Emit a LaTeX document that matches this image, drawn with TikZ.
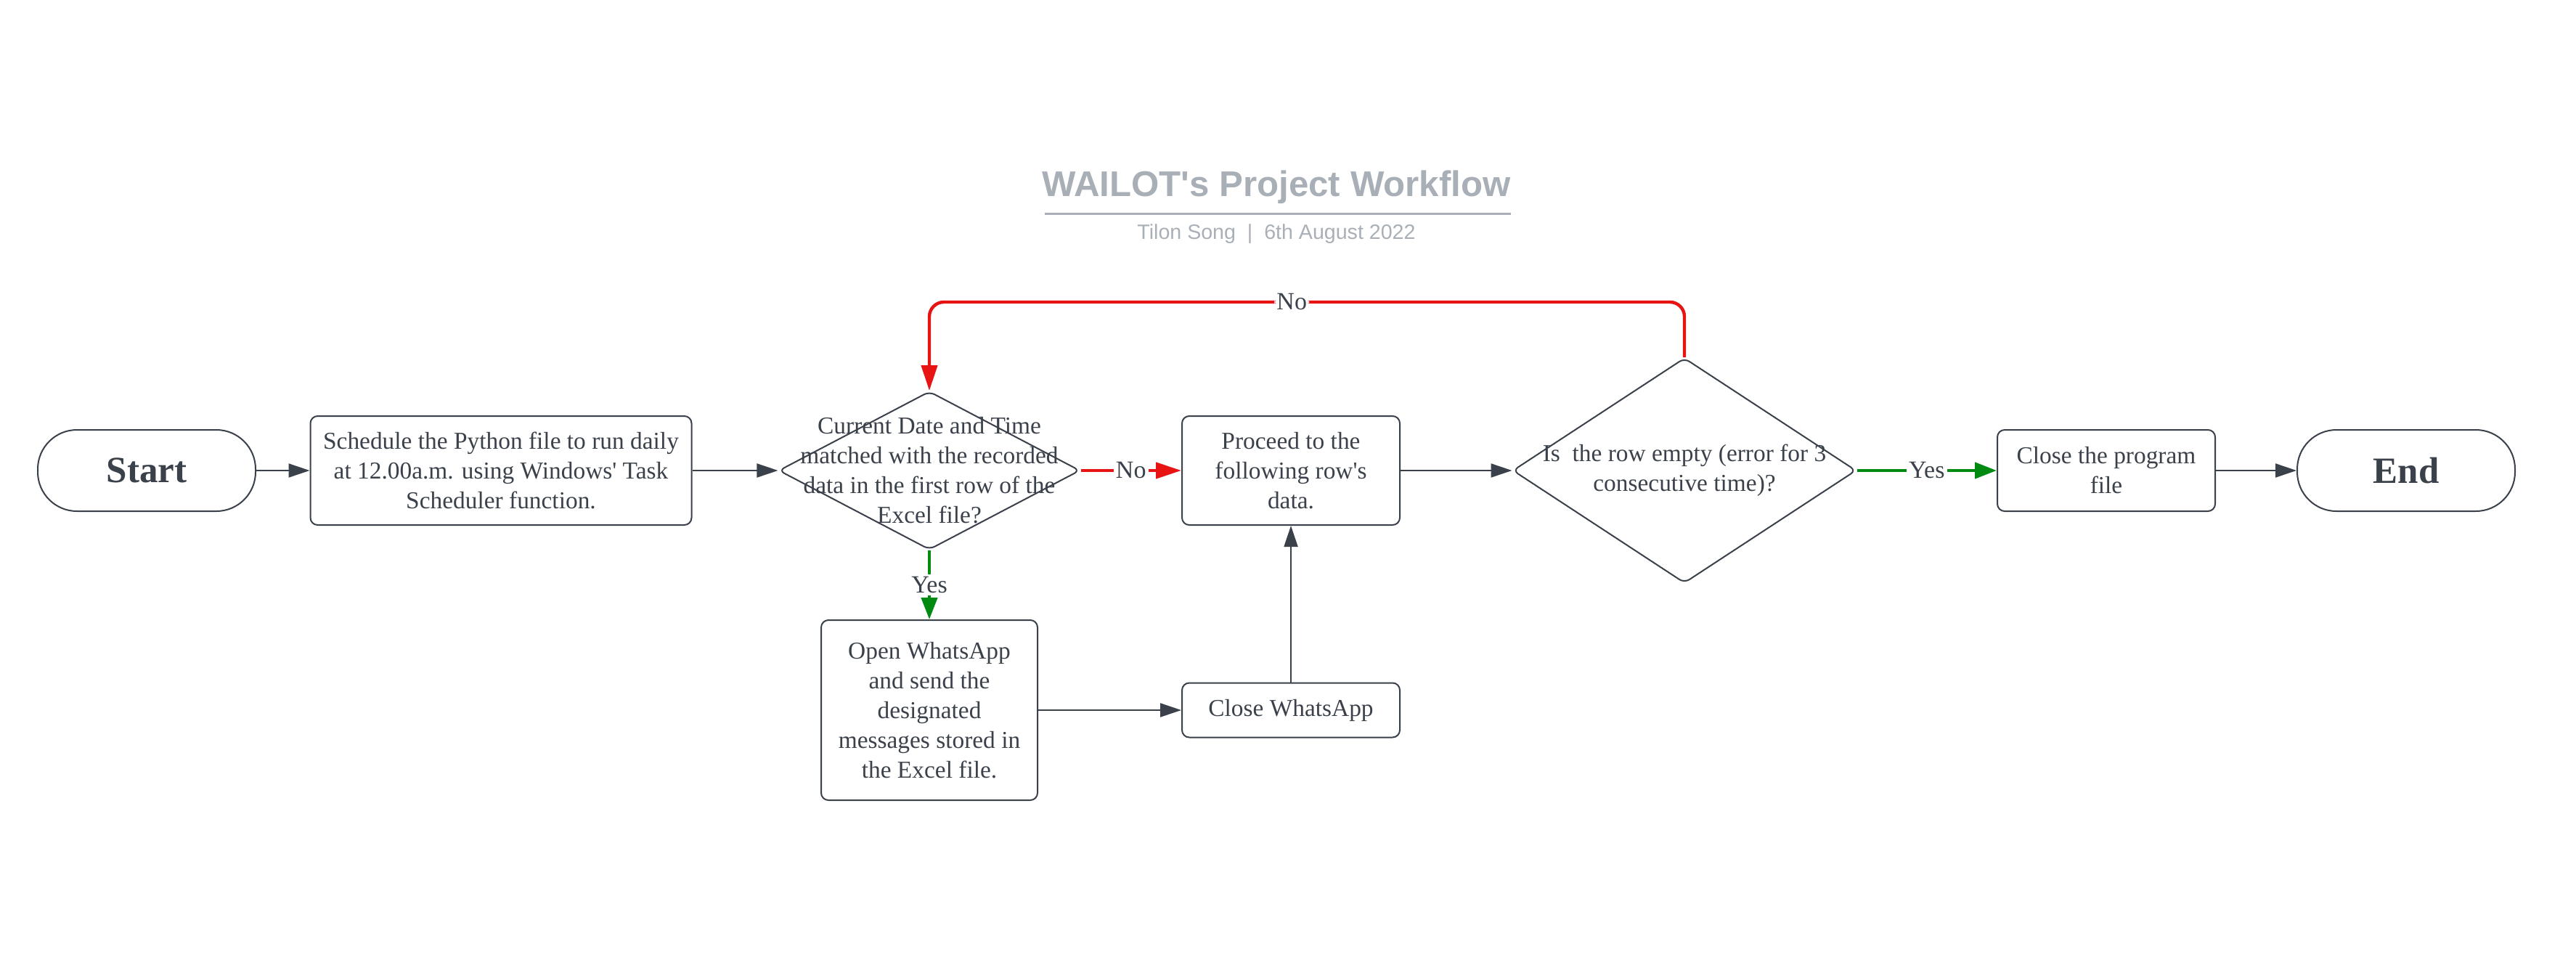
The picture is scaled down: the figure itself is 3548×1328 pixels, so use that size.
\documentclass[tikz,border=0pt]{standalone}
\usepackage{fontspec}
\setmainfont{Liberation Serif}[Ligatures=TeXOff]
\newfontfamily\titlefont{Liberation Sans}[Ligatures=TeXOff]
\usetikzlibrary{shapes.geometric,arrows.meta,calc}
\definecolor{ink}{HTML}{3A414A}
\definecolor{tgray}{HTML}{A9AFB7}
\definecolor{nored}{HTML}{E81414}
\definecolor{yesgreen}{HTML}{008A12}
\begin{document}
\begin{tikzpicture}[x=0.5pt,y=-0.5pt,
  txt/.style={text=ink, font=\fontsize{16.7}{20.5}\selectfont, align=center},
  box/.style={txt, draw=ink, line width=1pt, rounded corners=5pt, inner sep=0pt},
  term/.style={draw=ink, line width=1pt, rounded corners=27pt, minimum width=150pt, minimum height=56pt, text=ink, font=\fontsize{25.5}{28}\selectfont\bfseries},
  decision/.style={draw=ink, line width=1pt, shape=diamond, rounded corners=4pt, inner sep=0pt},
  conn/.style={draw=ink, line width=1pt, -{Triangle[length=14.5pt,width=9.5pt]}},
  redc/.style={draw=nored, line width=2.2pt, -{Triangle[length=17.5pt,width=11pt]}},
  greenc/.style={draw=yesgreen, line width=2.2pt, -{Triangle[length=15pt,width=11pt]}},
  lbl/.style={fill=white, inner sep=1.5pt, text=ink, font=\fontsize{17}{18}\selectfont}
]
\useasboundingbox (0,0) rectangle (3548,1328);

% title
\node[font=\titlefont\bfseries\fontsize{24.6}{28}\selectfont, text=tgray, anchor=base] (title) at (1758,270) {WAILOT's Project Workflow};
\draw[tgray, line width=1.5pt] (1439,294) -- (2081,294);
\node[font=\titlefont\fontsize{14.3}{16}\selectfont, text=tgray, anchor=base] (sub) at (1758,329) {Tilon Song\ \ |\ \ 6th August 2022};

% nodes
\node[term] (start) at (202,648) {Start};
\node[box, minimum width=262.5pt, minimum height=75pt] (sched) at (690,648) {Schedule the Python file to run daily\\at 12.00a.m. using Windows' Task\\Scheduler function.};
\node[decision, minimum width=207.5pt, minimum height=109pt] (d1) at (1280,648) {};
\node[txt] (d1t) at (d1.center) {Current Date and Time\\matched with the recorded\\data in the first row of the\\Excel file?};
\node[box, minimum width=150pt, minimum height=75pt] (proceed) at (1778,648) {Proceed to the\\following row's\\data.};
\node[box, minimum width=149pt, minimum height=124pt] (openwa) at (1280,978) {Open WhatsApp\\and send the\\designated\\messages stored in\\the Excel file.};
\node[box, minimum width=150pt, minimum height=37.5pt] (closewa) at (1778,978) {Close WhatsApp};
\node[decision, minimum width=236.5pt, minimum height=155pt] (d2) at (2320,648) {};
\node[txt] (d2t) at (d2.center) {Is\ \ the row empty (error for 3\\consecutive time)?};
\node[box, minimum width=150pt, minimum height=56pt] (closeprog) at (2901,648) {Close the program\\file};
\node[term] (end) at (3314,648) {End};

% connectors
\draw[conn] (start) -- (sched);
\draw[conn] (sched) -- (d1);
\draw[redc] (d1) -- node[lbl]{No} (proceed);
\draw[conn] (proceed) -- (d2);
\draw[greenc] (d2) -- node[lbl]{Yes} (closeprog);
\draw[conn] (closeprog) -- (end);
\draw[greenc] (d1) -- node[lbl]{Yes} (openwa);
\draw[conn] (openwa) -- (closewa);
\draw[conn] (closewa) -- (proceed);
\draw[redc, rounded corners=10pt] (d2.north) -- ++(0,-76) -| node[pos=0.26,lbl]{No} (d1.north);
\end{tikzpicture}
\end{document}
